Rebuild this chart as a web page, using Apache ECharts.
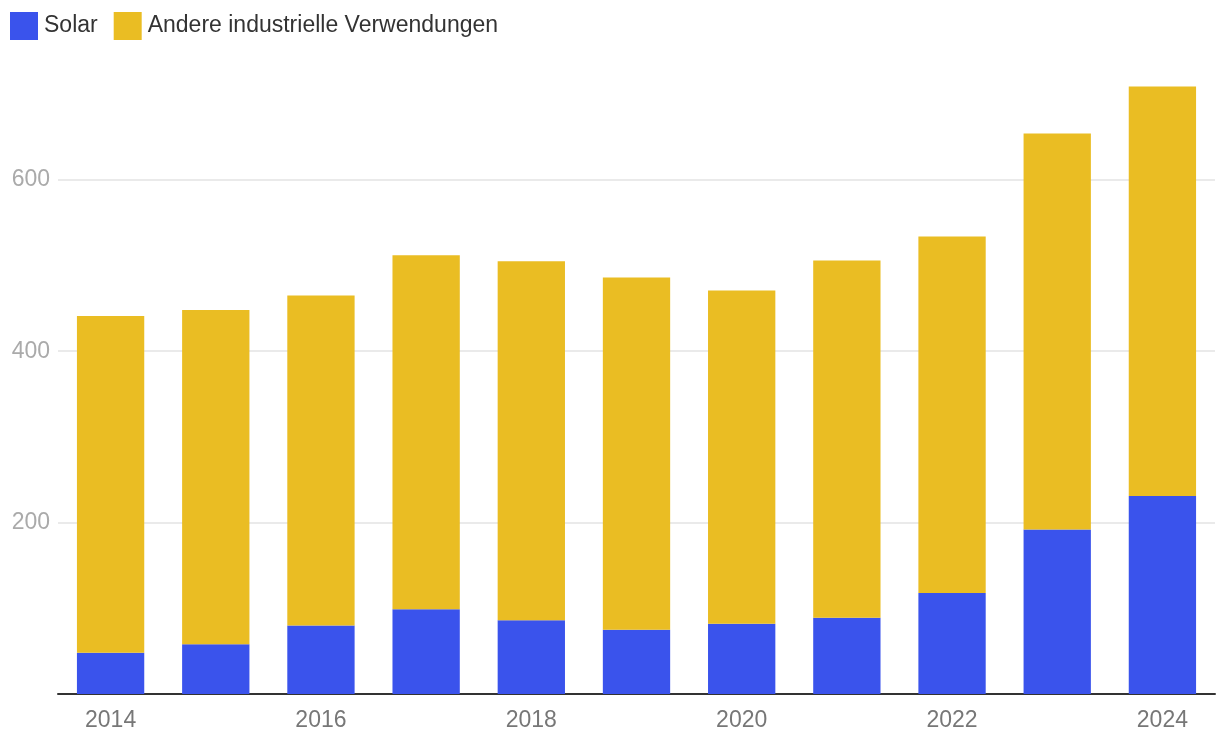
<!DOCTYPE html>
<html>
<head>
<meta charset="utf-8">
<script src="https://cdn.jsdelivr.net/npm/echarts@6/dist/echarts.min.js"></script>
<style>
  html, body { margin: 0; padding: 0; background: #fff; }
  #chart { width: 1220px; height: 748px; }
</style>
</head>
<body>
<div id="chart"></div>
<script>
  var years = ["2014", "2015", "2016", "2017", "2018", "2019", "2020", "2021", "2022", "2023", "2024"];
  var solar = [48, 58, 80, 99, 86, 75, 82, 89, 118, 192, 231];
  var total = [441, 448, 465, 512, 505, 486, 471, 506, 534, 654, 709];
  var other = total.map(function (t, i) { return t - solar[i]; });

  var myChart = echarts.init(document.getElementById("chart"));
  var option = {
    animation: false,
    textStyle: { fontFamily: "Liberation Sans, Arial, sans-serif" },
    legend: {
      left: 10,
      top: 12,
      padding: 0,
      itemWidth: 28,
      itemHeight: 28,
      itemGap: 16,
      icon: "rect",
      textStyle: { fontSize: 23, color: "#333", padding: [0, 0, 0, 1] },
      data: ["Solar", "Andere industrielle Verwendungen"]
    },
    grid: { left: 58, right: 5, top: 77, bottom: 54 },
    xAxis: {
      type: "category",
      data: years,
      axisTick: { show: false },
      axisLine: { lineStyle: { color: "#333", width: 2 } },
      axisLabel: { interval: 1, color: "#777", fontSize: 23, margin: 15 }
    },
    yAxis: {
      type: "value",
      min: 0,
      max: 720,
      interval: 200,
      axisLine: { show: false },
      axisTick: { show: false },
      axisLabel: {
        color: "#aaa", fontSize: 23, margin: 8, showMaxLabel: false,
        formatter: function (v) { return v === 0 ? "" : v; }
      },
      splitLine: { showMaxLine: false, lineStyle: { color: "#e3e3e3", width: 1.5 } }
    },
    series: [
      { name: "Solar", type: "bar", stack: "a", data: solar, barWidth: "64%", itemStyle: { color: "#3a53ec" } },
      { name: "Andere industrielle Verwendungen", type: "bar", stack: "a", data: other, barWidth: "64%", itemStyle: { color: "#eabd23" } }
    ]
  };
  myChart.setOption(option);
</script>
</body>
</html>
